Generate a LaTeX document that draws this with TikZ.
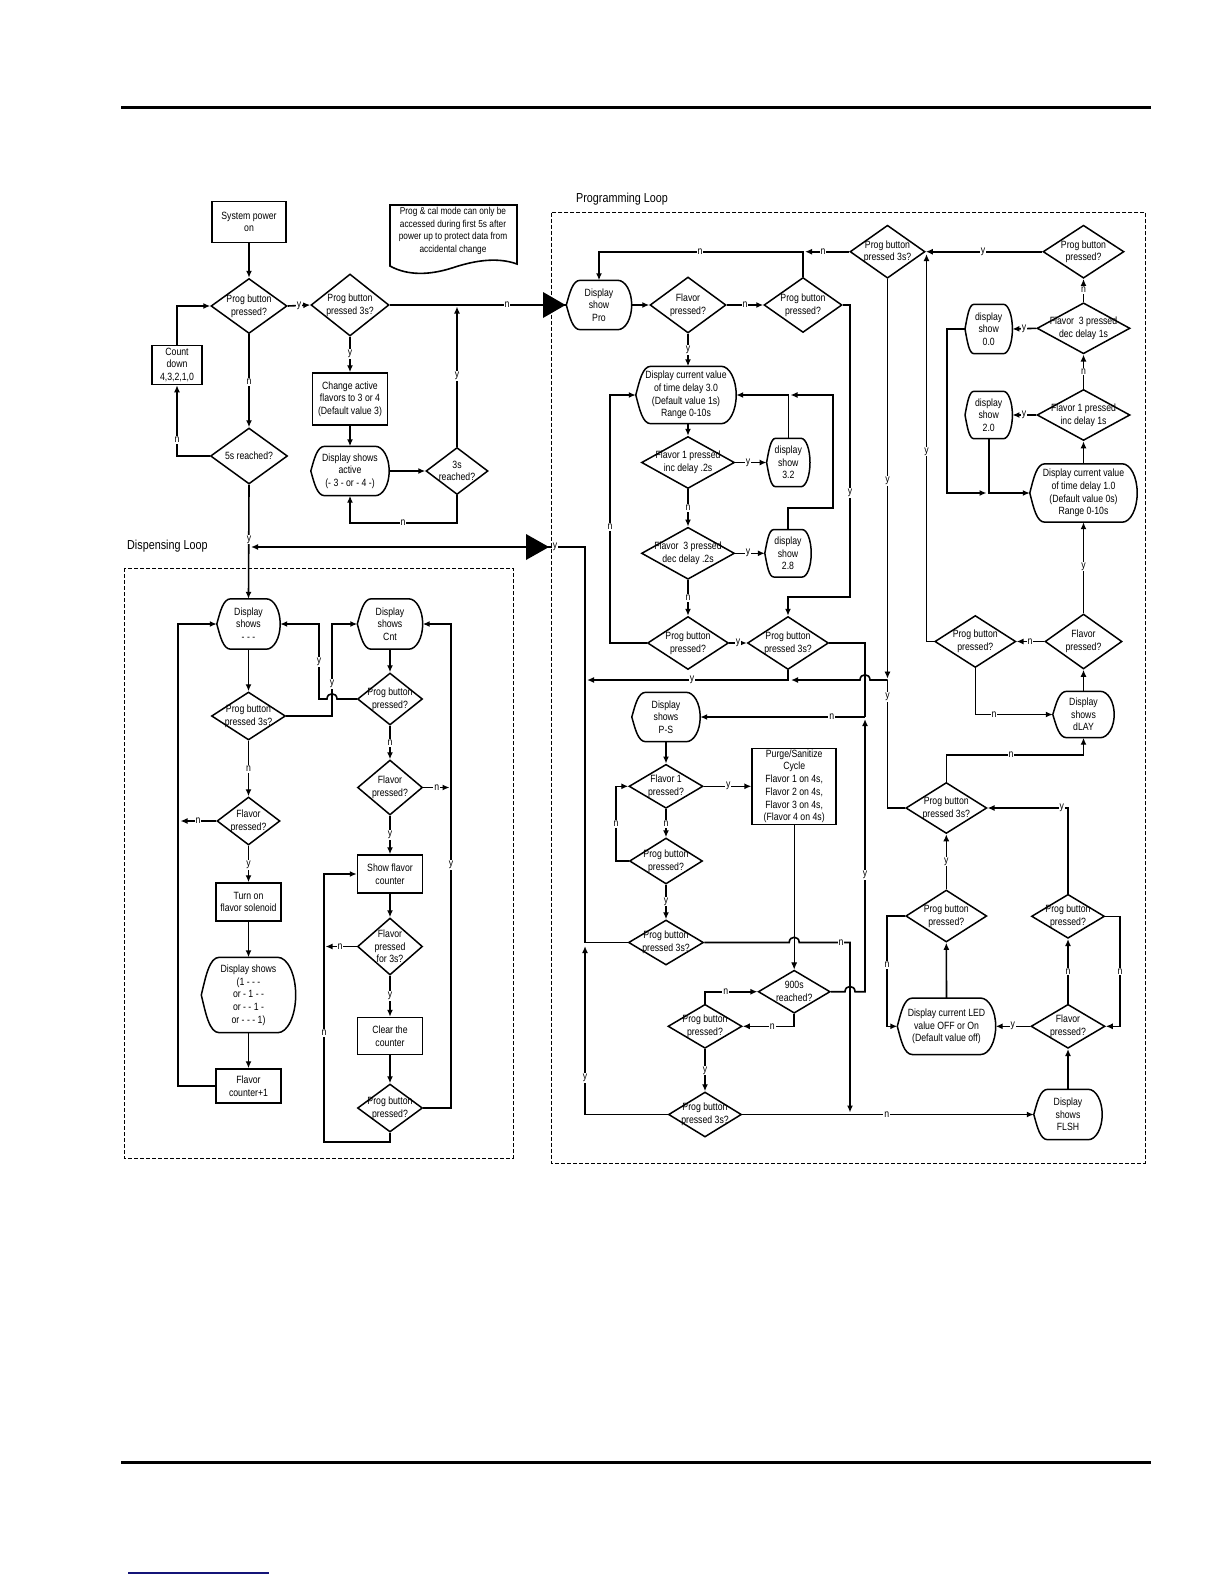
\documentclass[tikz,border=0pt]{standalone}
\usepackage{fontspec}
\setmainfont{Liberation Sans}[FakeStretch=0.83]
\usetikzlibrary{shapes.geometric,arrows.meta,calc}
\definecolor{navy}{RGB}{20,20,120}
\tikzset{
  flow/.style={line width=1.6pt,-{Latex[length=7pt,width=6pt]}},
  thinflow/.style={line width=0.9pt,-{Latex[length=7pt,width=6pt]}},
  wire/.style={line width=1.6pt},
  shapeline/.style={line width=1.5pt,line join=round},
  txt/.style={align=center,inner sep=0pt},
  sz/.style 2 args={minimum width=#1pt,minimum height=#2pt},
  dec/.style={diamond,draw,line width=1.5pt,inner sep=0pt},
  ask/.style={dec,label={[txt]center:#1}},
  box/.style={rectangle,draw,line width=1.5pt,inner sep=0pt,align=center},
  disp/.style={rectangle,inner sep=0pt,align=center},
  lab/.style={fill=white,inner sep=0.8pt},
  loopbox/.style={line width=0.8pt,dash pattern=on 4pt off 2pt},
  looptitle/.style={anchor=west,inner sep=0pt,font=\fontsize{13}{15}\selectfont}
}
% outline of a display symbol round node #2, #1 = depth of the curved ends
\newcommand{\dispout}[2][14]{%
  \draw[shapeline] (#2.west)
    .. controls ($(#2.west)!0.5!(#2.north west)+(0.25*#1,0)$) and ($(#2.north west)+(0.45*#1,0)$) .. ($(#2.north west)+(#1,0)$)
    -- ($(#2.north east)+(-#1,0)$)
    .. controls ($(#2.north east)+(-0.45*#1,0)$) and ($(#2.east)!0.55!(#2.north east)$) .. (#2.east)
    .. controls ($(#2.east)!0.55!(#2.south east)$) and ($(#2.south east)+(-0.45*#1,0)$) .. ($(#2.south east)+(-#1,0)$)
    -- ($(#2.south west)+(#1,0)$)
    .. controls ($(#2.south west)+(0.45*#1,0)$) and ($(#2.west)!0.5!(#2.south west)+(0.25*#1,0)$) .. (#2.west) -- cycle;}

\begin{document}
\begin{tikzpicture}[x=1pt,y=-1pt,every node/.style={font=\fontsize{10.5}{12.7}\selectfont}]
  \path[use as bounding box,fill=white] (0,0) rectangle (1224,1584);
  % page rules
  \draw[line width=3pt] (121,108) -- (1151,108);
  \draw[line width=3pt] (121,1462) -- (1151,1462);
  \draw[navy,line width=1.4pt] (128,1573) -- (269,1573);

  % loops
  \draw[loopbox] (124,568) rectangle (513,1158);
  \draw[loopbox] (551.7,212.7) rectangle (1145.7,1163);
  \node[looptitle] (tDisp) at (127,546) {Dispensing Loop};
  \node[looptitle] (tProg) at (576,199) {Programming Loop};

  % start up
  \node[box,sz={74}{41}] (pwr) at (249,222) {System power\\on};
  \node[ask={Prog button\\pressed?},sz={76}{55}] (qProg) at (249,306) {};
  \node[ask={Prog button\\pressed 3s?},sz={78}{62}] (qProg3) at (350,305) {};
  \node[box,sz={50}{39}] (cnt) at (177,365) {Count\\down\\4,3,2,1,0};
  \node[ask={5s reached?},sz={77}{56}] (q5s) at (249,456) {};
  \node[box,sz={75}{52}] (chg) at (350,399) {Change active\\flavors to 3 or 4\\(Default value 3)};
  \node[disp,sz={78}{49}] (dAct) at (350,471) {Display shows\\active\\(- 3 - or - 4 -)}; \dispout{dAct}
  \node[ask={3s\\reached?},sz={62}{47}] (q3s) at (457,471) {};
  \draw[wire] (390,205) -- (517,205) -- (517,264) .. controls (495,256) and (470,262) .. (452,268)
    .. controls (430,275) and (408,276) .. (390,266) -- cycle;
  \node[txt,font=\fontsize{10}{12.6}\selectfont] (note) at (453,231) {Prog \& cal mode can only be\\accessed during first 5s after\\power up to protect data from\\accidental change};

  % dispensing loop
  \node[disp,sz={63}{50}] (dDash) at (248.5,624) {Display\\shows\\- - -}; \dispout{dDash}
  \node[disp,sz={65}{50}] (dCnt) at (390,624) {Display\\shows\\Cnt}; \dispout{dCnt}
  \node[ask={Prog button\\pressed 3s?},sz={74}{48}] (qP3d) at (248.5,716) {};
  \node[ask={Prog button\\pressed?},sz={65}{52}] (qPd) at (390,699) {};
  \node[ask={Flavor\\pressed?},sz={63}{48}] (qFd) at (248.5,821) {};
  \node[ask={Flavor\\pressed?},sz={65}{55}] (qFc) at (390,787.5) {};
  \node[box,sz={65}{38}] (sol) at (248.5,902) {Turn on\\flavor solenoid};
  \node[disp,sz={94}{75}] (d1) at (248.5,995) {Display shows\\(1 - - -\\or - 1 - -\\or - - 1 -\\or - - - 1)}; \dispout[18]{d1}
  \node[box,sz={65}{34}] (fc1) at (248.5,1086) {Flavor\\counter+1};
  \node[box,sz={65}{38}] (sfc) at (390,874) {Show flavor\\counter};
  \node[ask={Flavor\\pressed\\for 3s?},sz={65}{57}] (qF3) at (390,946.5) {};
  \node[box,sz={65}{37}] (clr) at (390,1036) {Clear the\\counter};
  \node[ask={Prog button\\pressed?},sz={65}{48}] (qPb) at (390,1108) {};

  % programming loop
  \node[disp,sz={65}{49}] (dPro) at (599,305) {Display\\show\\Pro}; \dispout{dPro}
  \node[ask={Flavor\\pressed?},sz={76}{56}] (qFp) at (688,305) {};
  \node[ask={Prog button\\pressed?},sz={78}{55}] (qPp) at (803,305) {};
  \node[ask={Prog button\\pressed 3s?},sz={75}{53}] (qP3t) at (887.5,251.7) {};
  \node[ask={Prog button\\pressed?},sz={81}{53}] (qPtr) at (1083.5,251.7) {};
  \node[disp,sz={100}{57}] (dCur3) at (686,395) {Display current value\\of time delay 3.0\\(Default value 1s)\\Range 0-10s}; \dispout[15]{dCur3}
  \node[ask={Flavor 1 pressed\\inc delay .2s},sz={93}{52}] (qF1i) at (688,462.5) {};
  \node[disp,sz={43}{48}] (d32) at (788.3,462.5) {display\\show\\3.2}; \dispout[9]{d32}
  \node[ask={Flavor\ \ 3 pressed\\dec delay .2s},sz={93}{52}] (qF3d) at (688,553.3) {};
  \node[disp,sz={46}{47}] (d28) at (788,553.3) {display\\show\\2.8}; \dispout[9]{d28}
  \node[ask={Prog button\\pressed?},sz={81}{53}] (qPpb) at (688,643) {};
  \node[ask={Prog button\\pressed 3s?},sz={81}{53}] (qP3pl) at (788,643) {};

  \node[ask={Flavor\ \ 3 pressed\\dec delay 1s},sz={93}{51}] (qF3r) at (1083.5,328.3) {};
  \node[disp,sz={47}{49}] (d00) at (988.7,329) {display\\show\\0.0}; \dispout[9]{d00}
  \node[ask={Flavor 1 pressed\\inc delay 1s},sz={93}{51}] (qF1r) at (1083.5,415) {};
  \node[disp,sz={47}{47}] (d20) at (988.7,415) {display\\show\\2.0}; \dispout[9]{d20}
  \node[disp,sz={107}{58}] (dCur1) at (1083.5,493) {Display current value\\of time delay 1.0\\(Default value 0s)\\Range 0-10s}; \dispout[15]{dCur1}
  \node[ask={Flavor\\pressed?},sz={77}{55}] (qFdl) at (1083.5,641.5) {};
  \node[ask={Prog button\\pressed?},sz={81}{52}] (qPdl) at (975.3,641.5) {};
  \node[disp,sz={61}{46}] (dDlay) at (1083.5,714.5) {Display\\shows\\dLAY}; \dispout{dDlay}
  \node[ask={Prog button\\pressed 3s?},sz={81}{51}] (qP3led) at (946.3,808) {};
  \node[ask={Prog button\\pressed?},sz={81}{52}] (qPled) at (946.3,916) {};
  \node[disp,sz={98}{56}] (dLed) at (946.5,1026.3) {Display current LED\\value OFF or On\\(Default value off)}; \dispout[15]{dLed}
  \node[ask={Flavor\\pressed?},sz={74}{44}] (qFfl) at (1068,1026.3) {};
  \node[ask={Prog button\\pressed?},sz={73}{44}] (qPfl) at (1068,916.3) {};
  \node[disp,sz={68}{50}] (dFlsh) at (1068,1114.5) {Display\\shows\\FLSH}; \dispout{dFlsh}

  \node[disp,sz={68}{49}] (dPS) at (666,717) {Display\\shows\\P-S}; \dispout{dPS}
  \node[ask={Flavor 1\\pressed?},sz={74}{44}] (qF1ps) at (666,786.3) {};
  \node[box,sz={84}{76}] (purge) at (794.2,786.3) {Purge/Sanitize\\Cycle\\Flavor 1 on 4s,\\Flavor 2 on 4s,\\Flavor 3 on 4s,\\(Flavor 4 on 4s)};
  \node[ask={Prog button\\pressed?},sz={73}{46}] (qPps) at (666,861) {};
  \node[ask={Prog button\\pressed 3s?},sz={75}{45}] (qP3ps) at (666,942.5) {};
  \node[ask={900s\\reached?},sz={72}{43}] (q900) at (794.2,991.7) {};
  \node[ask={Prog button\\pressed?},sz={74}{44}] (qP900) at (705,1026.3) {};
  \node[ask={Prog button\\pressed 3s?},sz={73}{45}] (qP3b) at (705,1114.5) {};

  % connectors: start up
  \draw[flow] (pwr.south) -- (qProg.north);
  \draw[flow] (qProg.east) -- (qProg3.west);
  \draw[flow] (qProg3.south) -- (chg.north);
  \draw[flow] (chg.south) -- (dAct.north);
  \draw[flow] (dAct.east) -- (q3s.west);
  \draw[flow] (q3s.south) -- (457,523) -| (dAct.south);
  \draw[flow] (q3s.north) -- (457,306.5);
  \draw[wire] (qProg3.east) -- (dPro.west);
  \fill (543,292) -- (565.5,305) -- (543,318) -- cycle;
  \draw[flow] (qProg.south) -- (q5s.north);
  \draw[flow] (q5s.west) -| (cnt.south);
  \draw[flow] (cnt.north) |- (qProg.west);
  \draw[flow] (q5s.south) -- (dDash.north);

  % connectors: back to dispensing
  \draw[flow] (qP3b.west) -| (585,946);
  \draw[flow] (qP3ps.west) -| (585,547) -- (251,547);
  \fill (526,534) -- (549,547) -- (526,560) -- cycle;

  % connectors: dispensing loop
  \draw[flow] (dDash.south) -- (qP3d.north);
  \draw[flow] (qP3d.south) -- (qFd.north);
  \draw[flow] (qFd.west) -- (180.5,821);
  \draw[flow] (qFd.south) -- (sol.north);
  \draw[flow] (sol.south) -- (d1.north);
  \draw[flow] (d1.south) -- (fc1.north);
  \draw[flow] (fc1.west) -- ++(-37,0) |- (dDash.west);
  \draw[flow] (dCnt.south) -- (qPd.north);
  \draw[flow] (qPd.south) -- (qFc.north);
  \draw[flow] (qPd.west) -- (337,699) .. controls (337,692) and (327,692) .. (327,699) -- (319,699) |- (dDash.east);
  \draw[flow] (qP3d.east) -- (332,716) |- (dCnt.west);
  \draw[flow] (qFc.east) -- (449.5,787.5);
  \draw[flow] (qFc.south) -- (sfc.north);
  \draw[flow] (sfc.south) -- (qF3.north);
  \draw[flow] (qF3.west) -- (325.5,946.5);
  \draw[flow] (qF3.south) -- (clr.north);
  \draw[flow] (clr.south) -- (qPb.north);
  \draw[flow] (qPb.east) -- (451,1108) |- (dCnt.east);
  \draw[flow] (qPb.south) |- (324,1142) |- (sfc.west);

  % connectors: programming loop
  \draw[flow] (dPro.east) -- (qFp.west);
  \draw[flow] (qFp.east) -- (qPp.west);
  \draw[flow] (qP3t.west) -- (805,251.7);
  \draw[flow] (qPp.north) -- (803,251.7) -| (dPro.north);
  \draw[flow] (qPp.east) -| (850,597) -| (qP3pl.north);
  \draw[flow] (qFp.south) -- (dCur3.north -| qFp.south);
  \draw[flow] (dCur3.south -| qF1i.north) -- (qF1i.north);
  \draw[flow] (qF1i.east) -- (d32.west);
  \draw[flow] (qF1i.south) -- (qF3d.north);
  \draw[flow] (qF3d.east) -- (d28.west);
  \draw[flow] (qF3d.south) -- (qPpb.north);
  \draw[flow] (qPpb.west) -- (610,643) |- (dCur3.west);
  \draw[flow] (qPpb.east) -- (qP3pl.west);
  \draw[flow] (d28.north) |- (833,508) |- (790.5,395);
  \draw[flow] (d32.north) |- (dCur3.east);
  \draw[flow] (qP3pl.south) |- (587,680);
  \draw[thinflow] (qP3t.south) -- (887.5,678.5);
  \draw[wire] (qP3led.west) -| (887.5,680);
  \draw[flow] (887.5,680) -- (870,680) .. controls (870,673) and (860,673) .. (860,680) -- (791,680);
  \draw[wire] (qP3pl.east) -| (865,717);
  \draw[flow] (865,717) -- (dPS.east);
  \draw[flow] (q900.east) -- (845,991.7) .. controls (845,984.7) and (855,984.7) .. (855,991.7) -- (865,991.7) -- (865,719);

  \draw[flow] (qPtr.west) -- (qP3t.east);
  \draw[flow] (qF3r.north) -- (qPtr.south);
  \draw[flow] (qF1r.north) -- (qF3r.south);
  \draw[flow] (dCur1.north) -- (qF1r.south);
  \draw[flow] (qF3r.west) -- (d00.east);
  \draw[flow] (qF1r.west) -- (d20.east);
  \draw[flow] (d00.west) -- ++(-18,0) |- (986.5,493);
  \draw[flow] (d20.south) |- (dCur1.west);
  \draw[flow] (qFdl.north) -- (dCur1.south);
  \draw[flow] (qFdl.west) -- (qPdl.east);
  \draw[flow] (qPdl.west) -| (926.5,254);
  \draw[flow] (qPdl.south) |- (dDlay.west);
  \draw[flow] (dDlay.north) -- (qFdl.south);
  \draw[flow] (qP3led.north) -- (946.3,755) -| (dDlay.south);
  \draw[flow] (qPled.north) -- (qP3led.south);
  \draw[flow] (qPled.west) -- (887,916) |- (dLed.west);
  \draw[flow] (dLed.north) -- (qPled.south);
  \draw[flow] (qFfl.west) -- (dLed.east);
  \draw[flow] (qFfl.north) -- (qPfl.south);
  \draw[flow] (qPfl.north) |- (qP3led.east);
  \draw[flow] (qPfl.east) -- (1120,916.3) |- (qFfl.east);
  \draw[flow] (dFlsh.north) -- (qFfl.south);

  \draw[flow] (dPS.south) -- (qF1ps.north);
  \draw[flow] (qF1ps.east) -- (purge.west);
  \draw[flow] (qF1ps.south) -- (qPps.north);
  \draw[flow] (qPps.west) -- (616,861) |- (qF1ps.west);
  \draw[flow] (qPps.south) -- (qP3ps.north);
  \draw[thinflow] (purge.south) -- (q900.north);
  \draw[flow] (qP3ps.east) -- (789.2,942.5) .. controls (789.2,935.5) and (799.2,935.5) .. (799.2,942.5) -- (850,942.5) -- (850,1112.5);
  \draw[flow] (q900.south) |- (qP900.east);
  \draw[flow] (qP900.north) |- (q900.west);
  \draw[flow] (qP900.south) -- (qP3b.north);
  \draw[flow] (qP3b.east) -- (dFlsh.west);

  % y / n marks
  \node[lab] (m1) at (299,306) {y};   \node[lab] (m2) at (507,305) {n};
  \node[lab] (m3) at (350,354) {y};   \node[lab] (m4) at (457,376) {y};
  \node[lab] (m5) at (403,523) {n};   \node[lab] (m6) at (249,382) {n};
  \node[lab] (m7) at (177,440) {n};   \node[lab] (m8) at (249,539.5) {y};
  \node[lab] (m9) at (555,547) {y};
  \node[lab] (m10) at (319,662) {y};  \node[lab] (m11) at (332,684) {y};
  \node[lab] (m12) at (390,743) {n};  \node[lab] (m13) at (248.5,769) {n};
  \node[lab] (m14) at (198,821) {n};  \node[lab] (m15) at (436.7,787.5) {n};
  \node[lab] (m16) at (390,835) {y};  \node[lab] (m17) at (248.5,865) {y};
  \node[lab] (m18) at (340,946.5) {n}; \node[lab] (m19) at (390,996) {y};
  \node[lab] (m20) at (451,865) {y};  \node[lab] (m21) at (324,1033) {n};
  \node[lab] (m22) at (700,251.7) {n}; \node[lab] (m23) at (823,251.7) {n};
  \node[lab] (m24) at (745,305) {n};  \node[lab] (m25) at (850,493) {y};
  \node[lab] (m26) at (688,350) {y};  \node[lab] (m27) at (748,462.5) {y};
  \node[lab] (m28) at (688,508) {n};  \node[lab] (m29) at (748,553.3) {y};
  \node[lab] (m30) at (688,598) {n};  \node[lab] (m31) at (610,527) {n};
  \node[lab] (m32) at (738,643) {y};  \node[lab] (m33) at (692,680) {y};
  \node[lab] (m34) at (887.5,481) {y}; \node[lab] (m35) at (887.5,697) {y};
  \node[lab] (m36) at (831.7,717) {n}; \node[lab] (m37) at (865,875) {y};
  \node[lab] (m38) at (983,251.7) {y}; \node[lab] (m39) at (1083.5,290) {n};
  \node[lab] (m40) at (1083.5,371.7) {n}; \node[lab] (m41) at (1024,329) {y};
  \node[lab] (m42) at (1024,415) {y}; \node[lab] (m43) at (926.5,451.7) {y};
  \node[lab] (m44) at (1083.5,566.7) {y}; \node[lab] (m45) at (1030,641.5) {n};
  \node[lab] (m46) at (994,714.5) {n}; \node[lab] (m47) at (1011,755) {n};
  \node[lab] (m48) at (946.3,861.7) {y}; \node[lab] (m49) at (887,965) {n};
  \node[lab] (m50) at (1012.7,1026.3) {y}; \node[lab] (m51) at (1068,971.7) {n};
  \node[lab] (m52) at (1061.7,808) {y}; \node[lab] (m53) at (1120,971.7) {n};
  \node[lab] (m54) at (728.3,786.3) {y}; \node[lab] (m55) at (666,824) {n};
  \node[lab] (m56) at (616,824) {n};  \node[lab] (m57) at (666,901.7) {y};
  \node[lab] (m58) at (841,942.5) {n}; \node[lab] (m59) at (772.3,1026.3) {n};
  \node[lab] (m60) at (725.7,991.7) {n}; \node[lab] (m61) at (705,1070.7) {y};
  \node[lab] (m62) at (585,1078) {y}; \node[lab] (m63) at (886.7,1114.5) {n};
\end{tikzpicture}
\end{document}
